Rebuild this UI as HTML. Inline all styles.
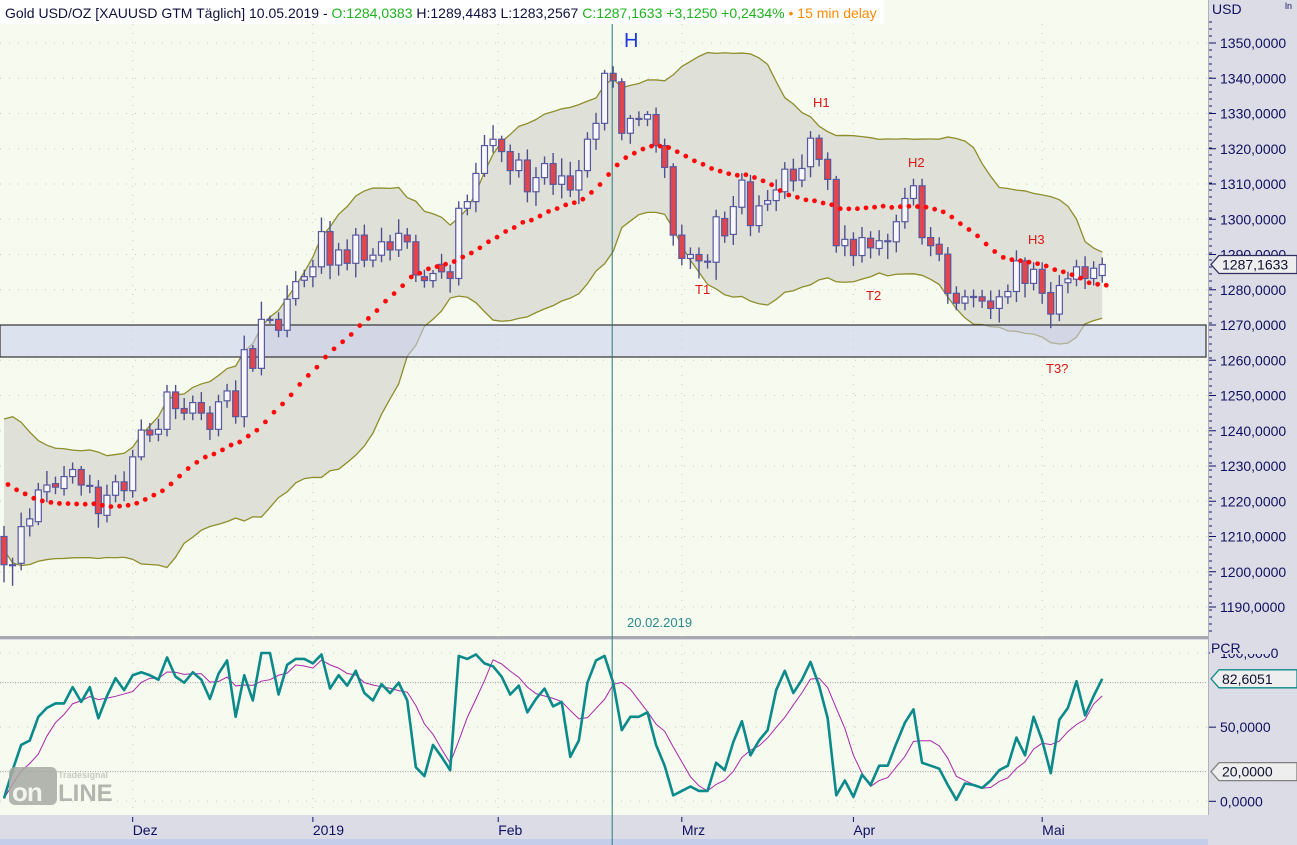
<!DOCTYPE html>
<html><head><meta charset="utf-8">
<style>
html,body{margin:0;padding:0;background:#dcdce6;}
svg{display:block;font-family:"Liberation Sans","DejaVu Sans",sans-serif;}
</style></head>
<body>
<svg id="chart" width="1297" height="845" viewBox="0 0 1297 845" xmlns="http://www.w3.org/2000/svg">
  <rect x="0" y="0" width="1297" height="845" fill="#dcdce6"/>
  <rect x="0" y="0" width="1208" height="636" fill="#f7faef"/>
  <rect x="0" y="640" width="1208" height="175" fill="#f7faef"/>
  <line x1="0" y1="637.5" x2="1208" y2="637.5" stroke="#a8a8b0" stroke-width="3"/>
  <line x1="1208.5" y1="0" x2="1208.5" y2="815" stroke="#b0b0b8" stroke-width="1"/>
  <rect x="0" y="839" width="1208" height="6" fill="#c4cdea"/>
  <g id="grid"></g>
  <g id="band"></g>
  <rect x="0" y="325" width="1206" height="32" fill="#c8cdee" fill-opacity="0.55" stroke="#333" stroke-width="1.2"/>
  <g id="candles"></g>
  <g id="madots"></g>
  <g id="pcr"></g>
  <g id="axes"></g>
  <line id="vline" x1="612" y1="22" x2="612" y2="845" stroke="#2a7a7a" stroke-width="1"/>
  <text x="627" y="627" font-size="13" fill="#2a8a8a">20.02.2019</text>
  <text x="624" y="47" font-size="20" fill="#1a3adf">H</text>
  <text x="813" y="107" font-size="13" fill="#e01414">H1</text>
  <text x="908" y="167" font-size="13" fill="#e01414">H2</text>
  <text x="1028" y="244" font-size="13" fill="#e01414">H3</text>
  <text x="695" y="294" font-size="13" fill="#e01414">T1</text>
  <text x="866" y="300" font-size="13" fill="#e01414">T2</text>
  <text x="1046" y="373" font-size="13" fill="#e01414">T3?</text>
  <g opacity="0.85">
    <rect x="9" y="767" width="48" height="38" rx="6" fill="#a8aaa4"/>
    <text x="58" y="778" font-size="9" font-weight="bold" fill="#c0c2bc">Tradesignal</text>
    <text x="12" y="801" font-size="26" font-weight="bold" fill="#f4f4f0" letter-spacing="-1">on</text>
    <text x="58" y="801" font-size="24" font-weight="bold" fill="#a8aaa4">LINE</text>
  </g>
  <rect x="0" y="0" width="884" height="24" fill="#ffffff"/>
  <text x="5" y="18" font-size="14" fill="#101040">Gold USD/OZ [XAUUSD GTM Täglich] 10.05.2019 - <tspan fill="#1db31d">O:1284,0383</tspan> H:1289,4483 L:1283,2567 <tspan fill="#1db31d">C:1287,1633 +3,1250 +0,2434%</tspan><tspan fill="#ff8a00"> • 15 min delay</tspan></text>
</svg>
<script>
// ---------- data ----------
var histCloses = [1232,1236,1240,1238,1233,1230,1228,1231,1226,1222,1225,1229,1223,1218,1221,1219,1214,1216,1212];
var opens = [1210,1202,1202.4,1213,1214.2,1222.7,1225,1223.6,1227,1229,1224.5,1224,1216,1221.7,1225.5,1223,1232.6,1240.2,1239,1240.4,1251,1246.3,1245,1248,1245,1240.4,1248.5,1251.3,1244,1263.3,1257.7,1271.6,1271.6,1268.5,1277.5,1282.7,1283.7,1286.5,1296.5,1287,1291.3,1287.5,1295.5,1288.4,1289.8,1293.6,1291.3,1295.5,1293.6,1283.7,1282.6,1287.2,1285.1,1283.2,1303.1,1305,1313,1320.9,1322.7,1319.2,1313.8,1316.8,1307.8,1311.8,1315.8,1309.9,1312.3,1308.3,1313.8,1322.7,1327.2,1341.4,1339,1324.4,1328.6,1328.4,1329.7,1320.9,1314.9,1295.5,1288.9,1290,1288.1,1287.8,1300.2,1295.7,1303.4,1310.6,1298.2,1304.3,1305.3,1307.8,1314.2,1311.1,1314.9,1323,1317,1311.3,1292.5,1294.3,1289.7,1294.6,1291.7,1293.9,1293.6,1299.3,1305.9,1309.5,1294.8,1292.9,1290.1,1279,1276.2,1278,1278,1276.8,1274.7,1278,1279.5,1288.2,1281.8,1285.8,1279.2,1273.1,1282,1283,1286.5,1283.2,1284.0383];
var closes = [1202,1202,1212.8,1215,1223.2,1224.6,1224,1227,1229,1224.6,1224.3,1216.5,1221.7,1225.5,1223,1232.6,1240.2,1238.8,1240.4,1251,1246.3,1245,1248,1245,1240.4,1248.2,1251.3,1244,1263,1257.7,1271.6,1271.4,1268.5,1277.3,1282.3,1283.7,1286.5,1296.5,1287,1291.3,1287.5,1295.5,1288.4,1289.8,1293.6,1291.3,1296,1293.6,1284.2,1282.6,1284.6,1285.1,1283.2,1303.1,1305,1313,1320.9,1322.7,1319.2,1313.8,1316.8,1307.8,1311.8,1315.8,1309.9,1312.3,1308.3,1313.8,1322.7,1327.2,1341.4,1339.3,1324.4,1328.6,1328.4,1329.7,1320.9,1314.7,1295.5,1288.9,1290,1288.2,1288,1300.7,1295.3,1303.6,1311.1,1298.2,1303.8,1305.3,1308.3,1314.2,1310.9,1314.4,1323,1317,1311.3,1292.5,1294.3,1289.7,1294.8,1291.9,1293.9,1293.7,1299.3,1305.9,1309.5,1294.8,1292.5,1290.1,1279,1276.2,1278,1278.1,1276.8,1274.7,1278,1279.5,1288.2,1281.8,1285.8,1279,1273.1,1281.2,1283.1,1286.5,1283.2,1286.1,1287.1633];
var upWick = [3,2,4,3,2,4,2,3,2,1,3,2,3,2,3,2,3,2,3,2,2,3,2,3,2,2,2,3,4,1,5,1,2,4,3,2,2,4,3,2,3,2,3,2,4,2,4,2,2,2,1,3,2,2,2,3,3,4,1,2,2,3,3,2,3,5,4,3,2,3,1,2,1,1,2,1,2,2,1,3,2,2,2,2,2,3,2,2,3,3,3,2,3,4,2,1,2,1,4,2,3,2,3,2,2,3,2,2,3,2,2,2,2,2,2,3,2,2,3,1,2,2,3,3,2,2,3,2,2];
var loWick = [5,6,2,3,1,3,2,2,2,3,2,4,2,2,3,2,1,2,2,2,3,2,2,2,3,2,2,2,3,1,2,1,2,2,2,2,3,2,4,3,2,4,2,2,2,3,2,2,2,2,2,2,4,2,2,3,1,2,3,4,2,3,4,2,3,4,2,4,2,3,2,2,2,3,2,2,2,3,3,2,3,5,2,5,2,3,2,3,2,2,3,2,3,2,3,2,3,2,3,3,2,3,2,5,3,2,2,2,3,2,3,2,2,3,2,3,4,2,3,4,2,3,4,2,3,2,3,2,2];
var pcr = [2,21,38,41,57,63,66,66,77,67,77,56,71,83,75,85,87,85,82,97,84,80,87,82,69,86,95,57,85,68,100,100,72,92,96,96,93,99,76,85,78,88,73,68,79,73,80,68,23,17,38,30,21,98,96,99,93,91,84,72,78,60,69,76,64,67,30,41,80,95,98,80,48,57,57,60,38,24,4,7,10,7,7,26,21,40,54,31,41,48,75,88,73,82,94,78,56,4,14,3,18,11,24,24,39,53,62,26,24,22,11,1,12,11,9,14,21,24,43,31,57,41,19,55,63,81,58,71,82.6051];
var monthLabels = ["Dez","2019","Feb","Mrz","Apr","Mai"];
var monthIdx = [15,36,57.6,79,99,121];
var priceTicks = [1190,1200,1210,1220,1230,1240,1250,1260,1270,1280,1290,1300,1310,1320,1330,1340,1350];
var pcrTicks = [0,50,100];
var pcrLevels = [20,80];
var markerIdx = 71;

// ---------- scales ----------
var NS="http://www.w3.org/2000/svg";
function X(i){return 4+8.58*i;}
function Y(p){return 43+(1350-p)*3.525;}
function YP(v){return 801.3-v*1.483;}
function mk(tag,attrs,parent){var e=document.createElementNS(NS,tag);for(var k in attrs)e.setAttribute(k,attrs[k]);parent.appendChild(e);return e;}
function fmt(v){return v.toFixed(4).replace('.',',');}
var n=closes.length;

(function(){
var g=document.getElementById('grid');
priceTicks.forEach(function(p){
  var l=mk('line',{x1:0,y1:Y(p),x2:1207,y2:Y(p),stroke:'#c8cabf','stroke-dasharray':'1 8'},g);
  
  
});
monthIdx.forEach(function(mi){
  var l=mk('line',{x1:X(mi),y1:24,x2:X(mi),y2:815,stroke:'#c8cabf','stroke-dasharray':'1 8'},g);
  
  
});
pcrTicks.forEach(function(v){
  var l=mk('line',{x1:0,y1:YP(v),x2:1207,y2:YP(v),stroke:'#c8cabf','stroke-dasharray':'1 8'},g);
  
  
});
pcrLevels.forEach(function(v){
  var l=mk('line',{x1:0,y1:YP(v),x2:1207,y2:YP(v),stroke:'#9a9a9a','stroke-dasharray':'1 1.5'},g);
  
  
});

var full=histCloses.concat(closes), H=histCloses.length;
var mid=[],up=[],lo=[],i;
for(i=0;i<n;i++){
  var w=full.slice(H+i-19,H+i+1),m=w.reduce(function(a,b){return a+b;},0)/w.length;
  var sd=Math.sqrt(w.reduce(function(a,b){return a+(b-m)*(b-m);},0)/w.length);
  mid.push(m);up.push(m+2*sd);lo.push(m-2*sd);
}
var bg=document.getElementById('band');
var d='M'+X(0)+','+Y(up[0]);
for(i=1;i<n;i++)d+=' L'+X(i)+','+Y(up[i]);
for(i=n-1;i>=0;i--)d+=' L'+X(i)+','+Y(lo[i]);
var bf=mk('path',{d:d+'Z',fill:'#dfe1d9',stroke:'none'},bg);


['up','lo'].forEach(function(k){
  var arr=k==='up'?up:lo,pd='';
  arr.forEach(function(v,j){pd+=(j?' L':'M')+X(j)+','+Y(v);});
  var p=mk('path',{d:pd,fill:'none',stroke:'#8e8e2a','stroke-width':1.3},bg);
  
  
});

var cg=document.getElementById('candles');
for(i=0;i<n;i++){
  var o=opens[i],c=closes[i],x=X(i),hi=Math.max(o,c)+upWick[i],lw=Math.min(o,c)-loWick[i];
  var wl=mk('line',{x1:x,y1:Y(hi),x2:x,y2:Y(lw),stroke:'#50508e','stroke-width':1.4},cg);
  
  
  var bodyTop=Y(Math.max(o,c)),bodyH=Math.max(1,Y(Math.min(o,c))-bodyTop);
  var r=mk('rect',{x:x-3,y:bodyTop,width:6,height:bodyH,fill:c<o?'#e0464c':'#f8f8fc',stroke:'#5858a0','stroke-width':1.2},cg);
  
  
}
var mg=document.getElementById('madots');
for(i=0;i<n;i++){
  var dot=mk('circle',{cx:X(i)+4,cy:Y(mid[i]),r:2.4,fill:'#ff0a0a'},mg);
  
  
}
var pg=document.getElementById('pcr');
var sm=[];
for(i=0;i<n;i++){var s=0,k=0;for(var j=Math.max(0,i-4);j<=i;j++){s+=pcr[j];k++;}sm.push(s/k);}
var pd1='',pd2='';
for(i=0;i<n;i++){pd1+=(i?' L':'M')+X(i)+','+YP(pcr[i]);pd2+=(i?' L':'M')+X(i)+','+YP(sm[i]);}
var ps=mk('path',{d:pd2,fill:'none',stroke:'#a828a8','stroke-width':1},pg);


var pl=mk('path',{d:pd1,fill:'none',stroke:'#0a8a8a','stroke-width':2.6,'stroke-linejoin':'round'},pg);



var ag=document.getElementById('axes');
function txt(x,y,s,size,fill,name){var t=mk('text',{x:x,y:y,'font-size':size,fill:fill},ag);t.textContent=s;return t;}
for(var yy=22;yy<636;yy+=7){var tm=mk('line',{x1:1209,y1:yy,x2:1212,y2:yy,stroke:'#1a1a70'},ag);}
txt(1212,14,'USD',14,'#101060','price-axis-unit');
txt(1285,9,'ln',9,'#101060','log-toggle');
priceTicks.forEach(function(p){
  var tl=mk('line',{x1:1209,y1:Y(p),x2:1216,y2:Y(p),stroke:'#101060'},ag);
  
  
  txt(1220,Y(p)+5,fmt(p),14,'#101060','price-tick-label');
});
pcrTicks.forEach(function(v){
  var tl=mk('line',{x1:1209,y1:YP(v),x2:1216,y2:YP(v),stroke:'#101060'},ag);
  
  
  txt(1220,YP(v)+5,fmt(v),14,'#101060','pcr-tick-label');
});
var pbg=mk('rect',{x:1210,y:640,width:60,height:14,fill:'#dcdce6'},ag);


txt(1211,653,'PCR',14,'#101060','pcr-axis-title');
function tag(yc,label,border,name){
  var gr=mk('g',{},ag);
  
  
  mk('path',{d:'M1211,'+yc+' L1219,'+(yc-9)+' L1297,'+(yc-9)+' L1297,'+(yc+9)+' L1219,'+(yc+9)+' Z',fill:'#eeeeee',stroke:border,'stroke-width':1.3},gr);
  var t=mk('text',{x:1222,y:yc+5,'font-size':14,fill:'#101030'},gr);t.textContent=label;
}
tag(Y(closes[n-1]),fmt(closes[n-1]),'#303060','last-price-tag');
tag(YP(pcr[n-1]),fmt(pcr[n-1]),'#0a8a8a','last-pcr-tag');
tag(YP(20),fmt(20),'#808080','pcr-level-tag');
monthIdx.forEach(function(mi,k){
  var tl=mk('line',{x1:X(mi),y1:817,x2:X(mi),y2:822,stroke:'#101060'},ag);
  
  
  txt(X(mi),835,monthLabels[k],14,'#101060','time-tick-label');
});
var vl=document.getElementById('vline');vl.setAttribute('x1',X(markerIdx)-1);vl.setAttribute('x2',X(markerIdx)-1);
})();
</script>
</body></html>
